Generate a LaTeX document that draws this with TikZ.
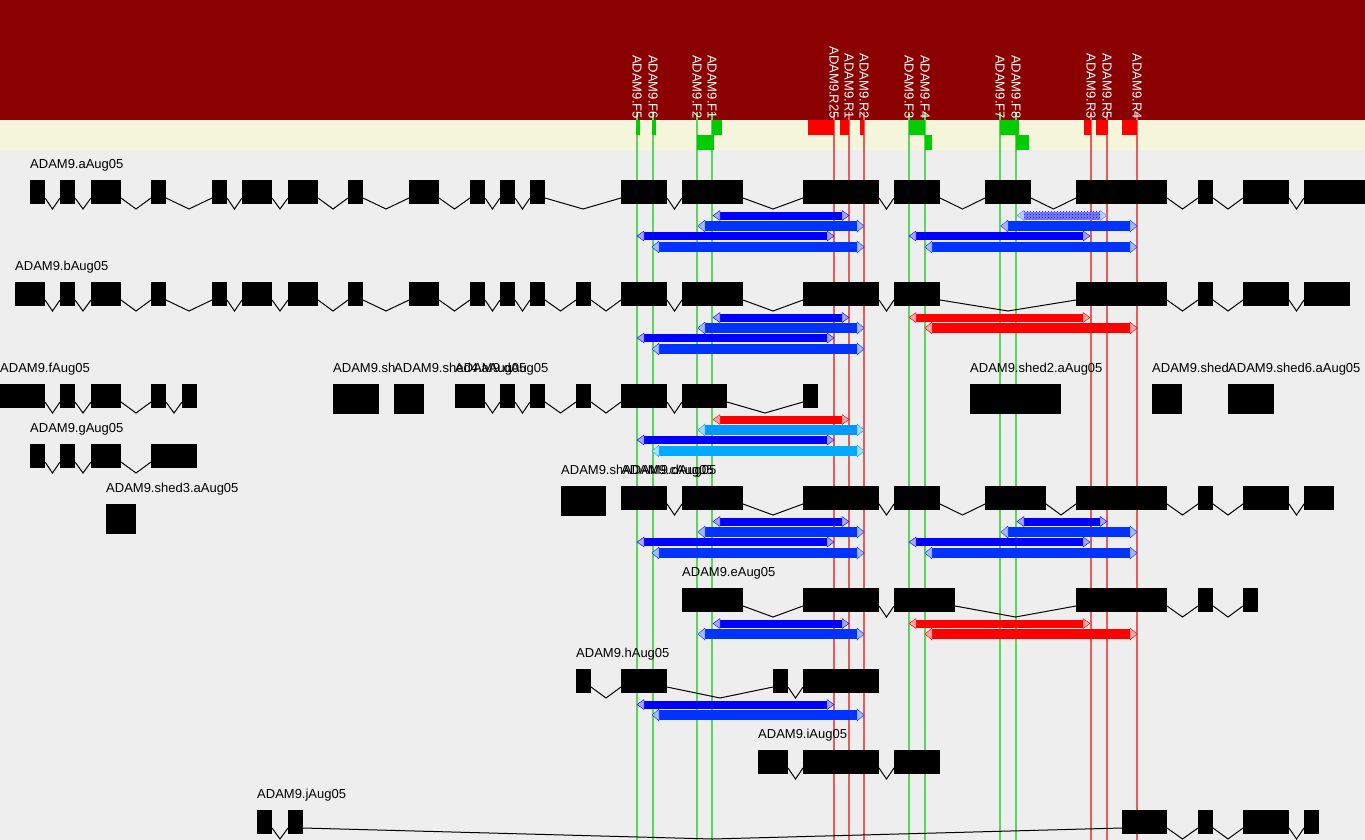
\documentclass[tikz,border=0pt]{standalone}
\usepackage{fontspec}
\setmainfont{Liberation Sans}
\usetikzlibrary{patterns}
\definecolor{darkred}{RGB}{139,0,0}
\definecolor{cream}{RGB}{245,245,220}
\definecolor{panel}{RGB}{238,238,238}
\definecolor{pgreen}{RGB}{0,204,0}
\definecolor{pred}{RGB}{255,0,0}
\definecolor{lgreen}{RGB}{90,214,90}
\definecolor{lred}{RGB}{236,90,90}
\definecolor{bluea}{RGB}{0,0,255}
\definecolor{blueb}{RGB}{0,51,255}
\definecolor{bluec}{RGB}{0,153,255}
\definecolor{blued}{RGB}{0,170,255}
\newcommand\gene[2]{%
  \gdef\prevend{}%
  \foreach \a/\b in {#2} {%
    \ifx\prevend\empty\else
      \draw[intron] (\prevend,#1+18) -- ({(\prevend+\a)/2},#1+29) -- (\a,#1+18);
    \fi
    \fill[exon] (\a,#1) rectangle (\b,#1+24);
    \xdef\prevend{\b}%
  }}
\newcommand\amp[5]{%
  \fill[#1] ({#2+6},{#4-#5}) rectangle ({#3-6},{#4+#5});
  \filldraw[draw=#1, fill=#1!35!white] (#2,#4) -- ({#2+7},{#4-#5-1}) -- ({#2+7},{#4+#5+1}) -- cycle;
  \filldraw[draw=#1, fill=#1!35!white] (#3,#4) -- ({#3-7},{#4-#5-1}) -- ({#3-7},{#4+#5+1}) -- cycle;}
\begin{document}
\begin{tikzpicture}[x=1pt,y=-1pt,font=\fontsize{13}{15}\selectfont,
  exon/.style={fill=black},
  intron/.style={draw=black,line width=1pt},
  glabel/.style={anchor=base west,inner sep=0pt,text=black},
  plabel/.style={rotate=-90,anchor=east,inner sep=0pt,text=white},
  fline/.style={draw=lgreen,line width=1.1pt},
  rline/.style={draw=lred,line width=1.1pt},
  fbox/.style={fill=pgreen},
  rbox/.style={fill=pred}]
\useasboundingbox (0,0) rectangle (1365,840);
% backgrounds
\fill[darkred] (0,0) rectangle (1365,120);
\fill[cream] (0,120) rectangle (1365,150);
\fill[panel] (0,150) rectangle (1365,840);
% primer guide lines
\foreach \x in {637,653,697,712,909,925,1000,1016} \draw[fline] (\x,112) -- (\x,840);
\foreach \x in {834,849,864,1091,1107,1137} \draw[rline] (\x,112) -- (\x,840);
% primer boxes
\fill[fbox] (636,120) rectangle (640,135);
\fill[fbox] (652,120) rectangle (656,135);
\fill[fbox] (712,120) rectangle (722,135);
\fill[fbox] (697,135) rectangle (714,150);
\fill[rbox] (808,120) rectangle (834,135);
\fill[rbox] (840,120) rectangle (849,135);
\fill[rbox] (860,120) rectangle (864,135);
\fill[fbox] (909,120) rectangle (925,135);
\fill[fbox] (925,135) rectangle (932,150);
\fill[fbox] (1000,120) rectangle (1019,135);
\fill[fbox] (1016,135) rectangle (1029,150);
\fill[rbox] (1084,120) rectangle (1091,135);
\fill[rbox] (1096,120) rectangle (1108,135);
\fill[rbox] (1122,120) rectangle (1137,135);
% primer labels
\node[plabel] (lF5) at (637,119) {ADAM9.F5};
\node[plabel] (lF6) at (653,119) {ADAM9.F6};
\node[plabel] (lF2) at (697,119) {ADAM9.F2};
\node[plabel] (lF1) at (712,119) {ADAM9.F1};
\node[plabel] (lR25) at (834,119) {ADAM9.R25};
\node[plabel] (lR1) at (849,119) {ADAM9.R1};
\node[plabel] (lR2) at (864,119) {ADAM9.R2};
\node[plabel] (lF3) at (909,119) {ADAM9.F3};
\node[plabel] (lF4) at (925,119) {ADAM9.F4};
\node[plabel] (lF7) at (1000,119) {ADAM9.F7};
\node[plabel] (lF8) at (1016,119) {ADAM9.F8};
\node[plabel] (lR3) at (1091,119) {ADAM9.R3};
\node[plabel] (lR5) at (1107,119) {ADAM9.R5};
\node[plabel] (lR4) at (1137,119) {ADAM9.R4};
% ---- track a
\node[glabel] (ta) at (30,168) {ADAM9.aAug05};
\gene{180}{30/45,60/75,91/121,151/166,212/227,242/272,288/318,348/363,409/439,470/485,500/515,530/545,621/667,682/743,803/879,894/940,985/1031,1076/1167,1198/1213,1243/1289,1304/1365}
\amp{bluea}{713}{849}{215.5}{4}
\amp{blueb}{698}{864}{226}{5}
\amp{bluea}{637}{834}{236}{4}
\amp{blueb}{652}{864}{247}{5}
\fill[bluea!50!white] (1023,211.5) rectangle (1101,219.5);
\fill[pattern=crosshatch dots,pattern color=bluea] (1023,211.5) rectangle (1101,219.5);
\filldraw[draw=blueb!60!white,fill=blueb!25!white] (1017,215.5) -- (1024,210.5) -- (1024,220.5) -- cycle;
\filldraw[draw=blueb!60!white,fill=blueb!25!white] (1107,215.5) -- (1100,210.5) -- (1100,220.5) -- cycle;
\amp{blueb}{1001}{1137}{226}{5}
\amp{bluea}{909}{1090}{236}{4}
\amp{blueb}{925}{1137}{247}{5}
% ---- track b
\node[glabel] (tb) at (15,270) {ADAM9.bAug05};
\gene{282}{15/45,60/75,91/121,151/166,212/227,242/272,288/318,348/363,409/439,470/485,500/515,530/545,576/591,621/667,682/743,803/879,894/940,1076/1167,1198/1213,1243/1289,1304/1350}
\amp{bluea}{713}{849}{317.5}{4}
\amp{blueb}{698}{864}{328}{5}
\amp{bluea}{637}{834}{338}{4}
\amp{blueb}{652}{864}{349}{5}
\amp{pred}{909}{1090}{317.5}{4}
\amp{pred}{925}{1137}{328}{5}
% ---- track f row
\node[glabel] (tf) at (0,372) {ADAM9.fAug05};
\gene{384}{0/45,60/75,91/121,151/166,182/197}
\begin{scope}
\clip (333,355) rectangle (394,380);
\node[glabel] (ts5) at (333,372) {ADAM9.shed5.aAug05};
\end{scope}
\node[glabel] (ts4) at (394,372) {ADAM9.shed4.aAug05};
\node[glabel] (td) at (455,372) {ADAM9.dAug05};
\fill[exon] (333,384) rectangle (379,414);
\fill[exon] (394,384) rectangle (424,414);
\gene{384}{455/485,500/515,530/545,576/591,621/667,682/727,803/818}
\node[glabel] (ts2) at (970,372) {ADAM9.shed2.aAug05};
\fill[exon] (970,384) rectangle (1061,414);
\begin{scope}
\clip (1152,355) rectangle (1228,380);
\node[glabel] (ts7) at (1152,372) {ADAM9.shed7.aAug05};
\end{scope}
\fill[exon] (1152,384) rectangle (1182,414);
\node[glabel] (ts6) at (1228,372) {ADAM9.shed6.aAug05};
\fill[exon] (1228,384) rectangle (1274,414);
\amp{pred}{713}{849}{419.5}{4}
\amp{bluec}{698}{864}{430}{5}
\amp{bluea}{637}{834}{440}{4}
\amp{blued}{652}{864}{451}{5}
% ---- track g
\node[glabel] (tg) at (30,432) {ADAM9.gAug05};
\gene{444}{30/45,60/75,91/121,151/197}
% ---- shed3
\node[glabel] (ts3) at (106,492) {ADAM9.shed3.aAug05};
\fill[exon] (106,504) rectangle (136,534);
% ---- track c
\begin{scope}
\clip (561,455) rectangle (621,480);
\node[glabel] (ts1) at (561,474) {ADAM9.shed1.aAug05};
\end{scope}
\fill[exon] (561,486) rectangle (606,516);
\node[glabel] (tc) at (621,474) {ADAM9.cAug05};
\node[glabel] (tc2) at (623,474) {ADAM9.dAug05};
\gene{486}{621/667,682/743,803/879,894/940,985/1046,1076/1167,1198/1213,1243/1289,1304/1334}
\amp{bluea}{713}{849}{521.5}{4}
\amp{blueb}{698}{864}{532}{5}
\amp{bluea}{637}{834}{542}{4}
\amp{blueb}{652}{864}{553}{5}
\amp{bluea}{1017}{1107}{521.5}{4}
\amp{blueb}{1001}{1137}{532}{5}
\amp{bluea}{909}{1090}{542}{4}
\amp{blueb}{925}{1137}{553}{5}
% ---- track e
\node[glabel] (te) at (682,576) {ADAM9.eAug05};
\gene{588}{682/743,803/879,894/955,1076/1167,1198/1213,1243/1258}
\amp{bluea}{713}{849}{623.5}{4}
\amp{blueb}{698}{864}{634}{5}
\amp{pred}{909}{1090}{623.5}{4}
\amp{pred}{925}{1137}{634}{5}
% ---- track h
\node[glabel] (th) at (576,657) {ADAM9.hAug05};
\gene{669}{576/591,621/667,773/788,803/879}
\amp{bluea}{637}{834}{704.5}{4}
\amp{blueb}{652}{864}{715}{5}
% ---- track i
\node[glabel] (ti) at (758,738) {ADAM9.iAug05};
\gene{750}{758/788,803/879,894/940}
% ---- track j
\node[glabel] (tj) at (257,798) {ADAM9.jAug05};
\gene{810}{257/272,288/303,1122/1167,1198/1213,1243/1289,1304/1319}
\end{tikzpicture}
\end{document}
